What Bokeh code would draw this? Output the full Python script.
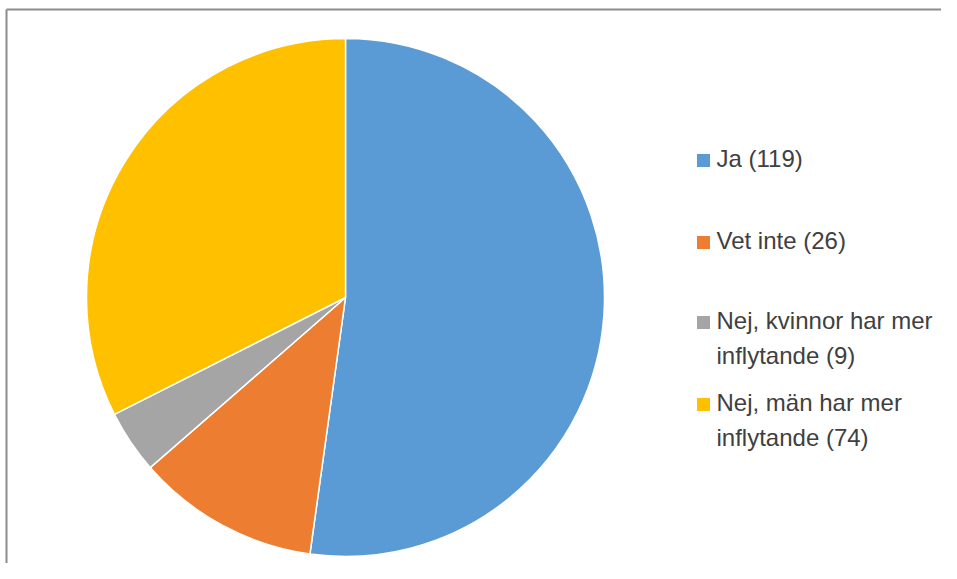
import math
from bokeh.plotting import figure
from bokeh.models import Range1d, ColumnDataSource
from bokeh.core.properties import value
from bokeh.embed import file_html
from bokeh.resources import INLINE

categories = ["Ja", "Vet inte", "Nej, kvinnor har mer\ninflytande", "Nej, män har mer\ninflytande"]
values = [119, 26, 9, 74]
colors = ["#5B9BD5", "#ED7D31", "#A5A5A5", "#FFC000"]

W, H = 941, 563
p = figure(width=W, height=H, output_backend="svg", toolbar_location=None,
           x_range=Range1d(0, W), y_range=Range1d(0, H), min_border=0,
           outline_line_color=None)
p.axis.visible = False
p.grid.visible = False

def Y(py):
    return H - py

# border (top and left)
p.line(x=[6, W], y=[Y(9), Y(9)], line_color="#8c8c8c", line_width=2)
p.line(x=[6, 6], y=[Y(9), 0], line_color="#8c8c8c", line_width=2)

total = sum(values)
starts, ends = [], []
cum = 0
for v in values:
    starts.append(math.pi / 2 - 2 * math.pi * cum / total)
    cum += v
    ends.append(math.pi / 2 - 2 * math.pi * cum / total)

cx, cy, r = 345, Y(297), 259
src = ColumnDataSource(dict(start=starts, end=ends, color=colors,
                            x=[cx] * 4, y=[cy] * 4))
p.wedge(x="x", y="y", radius=r, start_angle="start", end_angle="end",
        direction="clock", fill_color="color", line_color="white", line_width=1.5,
        source=src)

# legend
labels = []
for c, v in zip(categories, values):
    labels.append(f"{c} ({v})")
leg_y_page = [160, 242, 322, 404]
lx = 703
tx = 716
ly = [Y(y) for y in leg_y_page]
p.rect(x=[lx] * 4, y=ly, width=13, height=13, fill_color=colors, line_color=None)
p.text(x=[tx] * 4, y=[y + 16 for y in ly], text=labels, text_font=value("Liberation Sans"),
       text_font_size="24px", text_color="#404040", text_baseline="top",
       text_line_height=1.33)

open("out.html", "w").write(file_html(p, INLINE))
